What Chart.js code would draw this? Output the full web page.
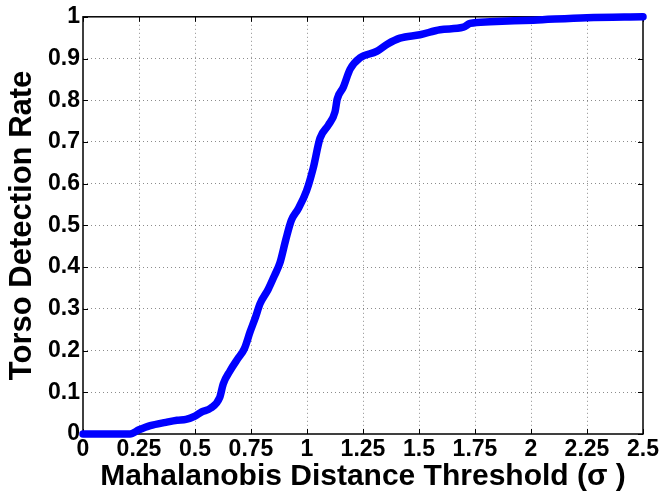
<!DOCTYPE html>
<html>
<head>
<meta charset="utf-8">
<script src="https://cdn.jsdelivr.net/npm/chart.js@4/dist/chart.umd.min.js"></script>
<style>
  body { margin: 0; background: #fff; }
  #wrap { width: 663px; height: 498px; }
</style>
</head>
<body>
<div id="wrap"><canvas id="roc" width="663" height="498"></canvas></div>
<script>
// threshold (sigma) vs detection rate
const thresholds = [0, 0.15, 0.21, 0.25, 0.3, 0.37, 0.42, 0.46, 0.5, 0.53, 0.57, 0.61, 0.626, 0.656, 0.693, 0.72,
  0.746, 0.77, 0.79, 0.827, 0.855, 0.879, 0.905, 0.93, 0.961, 0.998, 1.028, 1.058, 1.095, 1.125, 1.135, 1.162, 1.192,
  1.237, 1.311, 1.36, 1.415, 1.504, 1.594, 1.698, 1.728, 1.817, 2.01, 2.249, 2.5];
const detectionRate = [0, 0, 0, 0.01, 0.02, 0.028, 0.033, 0.035, 0.043, 0.053, 0.062, 0.087, 0.12, 0.151, 0.182, 0.204,
  0.245, 0.28, 0.312, 0.347, 0.38, 0.41, 0.465, 0.512, 0.54, 0.583, 0.638, 0.709, 0.74, 0.772, 0.803, 0.831, 0.874,
  0.902, 0.917, 0.935, 0.949, 0.957, 0.969, 0.975, 0.984, 0.988, 0.992, 0.998, 1.0];

const xTicks = [0, 0.25, 0.5, 0.75, 1, 1.25, 1.5, 1.75, 2, 2.25, 2.5];
const xTickLabels = ['0', '0.25', '0.5', '0.75', '1', '1.25', '1.5', '1.75', '2', '2.25', '2.5'];
const yTicks = [0, 0.1, 0.2, 0.3, 0.4, 0.5, 0.6, 0.7, 0.8, 0.9, 1];
const yTickLabels = ['0', '0.1', '0.2', '0.3', '0.4', '0.5', '0.6', '0.7', '0.8', '0.9', '1'];

const points = thresholds.map((x, i) => ({ x: x, y: detectionRate[i] }));

const tickFont = { family: 'Liberation Sans, Arial, sans-serif', size: 23, weight: 'bold' };
const xTitleFont = { family: 'Liberation Sans, Arial, sans-serif', size: 30, weight: 'bold' };
const yTitleFont = { family: 'Liberation Sans, Arial, sans-serif', size: 31, weight: 'bold' };

function gridColor(ticks) {
  return ctx => (ctx.index === 0 || ctx.index === ticks.length - 1) ? 'rgba(0,0,0,0)' : 'rgba(0,0,0,0.45)';
}

// matlab style box with inward ticks
const boxPlugin = {
  id: 'box',
  beforeDatasetsDraw(chart) {
    const { ctx, chartArea: a, scales } = chart;
    ctx.save();
    ctx.strokeStyle = '#000';
    ctx.lineWidth = 1.5;
    ctx.strokeRect(a.left, a.top, a.right - a.left, a.bottom - a.top);
    ctx.lineWidth = 1;
    ctx.beginPath();
    xTicks.forEach(v => {
      const px = Math.round(scales.x.getPixelForValue(v)) + 0.5;
      ctx.moveTo(px, a.bottom); ctx.lineTo(px, a.bottom - 5);
      ctx.moveTo(px, a.top); ctx.lineTo(px, a.top + 5);
    });
    yTicks.forEach(v => {
      const py = Math.round(scales.y.getPixelForValue(v)) + 0.5;
      ctx.moveTo(a.left, py); ctx.lineTo(a.left + 5, py);
      ctx.moveTo(a.right, py); ctx.lineTo(a.right - 5, py);
    });
    ctx.stroke();
    ctx.restore();
  }
};

new Chart(document.getElementById('roc'), {
  type: 'scatter',
  data: {
    datasets: [{
      data: points,
      showLine: true,
      borderColor: '#0000ff',
      borderWidth: 7.5,
      pointRadius: 0,
      cubicInterpolationMode: 'monotone',
      borderCapStyle: 'round',
      borderJoinStyle: 'round',
      clip: false
    }]
  },
  options: {
    responsive: false,
    animation: false,
    devicePixelRatio: 1,
    layout: { padding: { top: 10, right: 20, left: 0, bottom: 0 } },
    plugins: { legend: { display: false }, tooltip: { enabled: false } },
    scales: {
      x: {
        type: 'linear',
        min: 0, max: 2.5,
        afterBuildTicks: s => { s.ticks = xTicks.map(v => ({ value: v })); },
        afterFit: s => { s.height = 64; },
        ticks: {
          color: '#000', font: tickFont, padding: 2, maxRotation: 0, autoSkip: false,
          callback: (v, i) => xTickLabels[i]
        },
        grid: { drawTicks: false, color: gridColor(xTicks), lineWidth: 1 },
        border: { display: false, dash: [1, 3] },
        title: {
          display: true, text: 'Mahalanobis Distance Threshold (\u03C3 )', color: '#000',
          font: xTitleFont, padding: { top: 0, bottom: 3 }
        }
      },
      y: {
        type: 'linear',
        min: 0, max: 1,
        afterBuildTicks: s => { s.ticks = yTicks.map(v => ({ value: v })); },
        afterFit: s => { s.width = 83; },
        ticks: {
          color: '#000', font: tickFont, padding: 3, autoSkip: false,
          callback: (v, i) => yTickLabels[i]
        },
        grid: { drawTicks: false, color: gridColor(yTicks), lineWidth: 1 },
        border: { display: false, dash: [1, 3] },
        title: {
          display: true, text: 'Torso Detection Rate', color: '#000',
          font: yTitleFont, padding: { top: 4, bottom: 0 }
        }
      }
    }
  },
  plugins: [boxPlugin]
});
</script>
</body>
</html>
